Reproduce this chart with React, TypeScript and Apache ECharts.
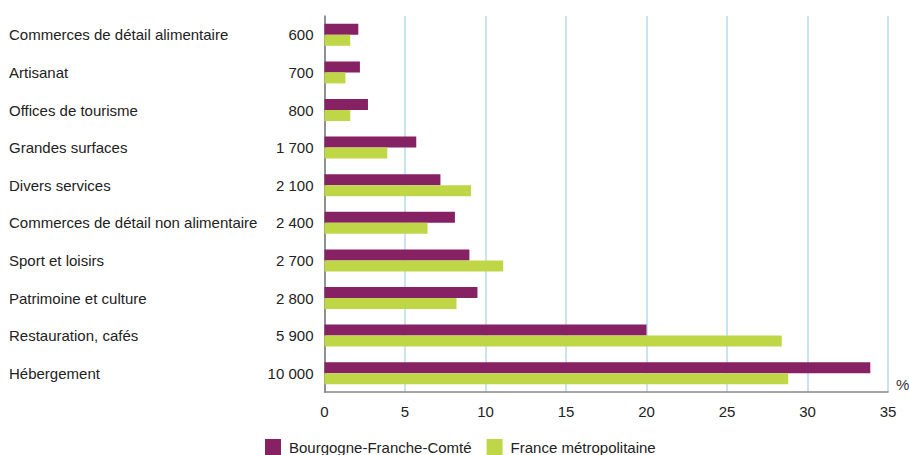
import React, { useEffect, useRef } from "react";
import * as echarts from "echarts";

const categories = [
  "Commerces de détail alimentaire",
  "Artisanat",
  "Offices de tourisme",
  "Grandes surfaces",
  "Divers services",
  "Commerces de détail non alimentaire",
  "Sport et loisirs",
  "Patrimoine et culture",
  "Restauration, cafés",
  "Hébergement",
];
const counts = ["600", "700", "800", "1 700", "2 100", "2 400", "2 700", "2 800", "5 900", "10 000"];
const bfc = [2.1, 2.2, 2.7, 5.7, 7.2, 8.1, 9.0, 9.5, 20.0, 33.9];
const france = [1.6, 1.3, 1.6, 3.9, 9.1, 6.4, 11.1, 8.2, 28.4, 28.8];
const xTicks = [0, 5, 10, 15, 20, 25, 30, 35];

const FONT = "'Liberation Sans', Arial, sans-serif";

export default function App() {
  const ref = useRef<HTMLDivElement>(null);
  useEffect(() => {
    document.body.style.margin = "0";
    const chart = echarts.init(ref.current!, null, { renderer: "svg" });
    chart.setOption({
      animation: false,
      textStyle: { fontFamily: FONT },
      grid: { left: 324.5, right: 21, top: 16, bottom: 63, containLabel: false, outerBoundsMode: "none" },
      legend: {
        top: 434,
        left: 260,
        itemWidth: 16,
        itemHeight: 16,
        itemGap: 15,
        icon: "rect",
        textStyle: { fontSize: 15, color: "#222", fontFamily: FONT, padding: [0, 0, 0, 3] },
        data: ["Bourgogne-Franche-Comté", "France métropolitaine"],
      },
      xAxis: {
        type: "value",
        min: 0,
        max: 35,
        interval: 5,
        name: "%",
        nameLocation: "end",
        nameGap: 8,
        nameTextStyle: { fontSize: 15, color: "#333", verticalAlign: "bottom" },
        axisLine: { show: true, lineStyle: { color: "#888", width: 1.5 } },
        axisTick: { show: false },
        axisLabel: { fontSize: 15, color: "#222", margin: 12, formatter: (v: number) => (xTicks.includes(v) ? String(v) : "") },
        splitLine: { show: true, lineStyle: { color: "#b5daf0", width: 1.5 } },
      },
      yAxis: [
        {
          type: "category",
          inverse: true,
          data: categories,
          axisLine: { show: true, lineStyle: { color: "#777", width: 1.5 } },
          axisTick: { show: false },
          axisLabel: { align: "left", margin: 315.5, fontSize: 15, color: "#222" },
        },
        {
          type: "category",
          inverse: true,
          position: "left",
          data: counts,
          axisLine: { show: false },
          axisTick: { show: false },
          axisLabel: { align: "right", margin: 11, fontSize: 15, color: "#222" },
        },
      ],
      series: [
        {
          name: "Bourgogne-Franche-Comté",
          type: "bar",
          data: bfc,
          yAxisIndex: 0,
          barWidth: 11,
          barGap: "0%",
          itemStyle: { color: "#862163" },
        },
        {
          name: "France métropolitaine",
          type: "bar",
          data: france,
          yAxisIndex: 0,
          barWidth: 11,
          barGap: "0%",
          itemStyle: { color: "#bfd746" },
        },
      ],
    });
    return () => chart.dispose();
  }, []);
  return <div ref={ref} style={{ width: 909, height: 455 }} />;
}
